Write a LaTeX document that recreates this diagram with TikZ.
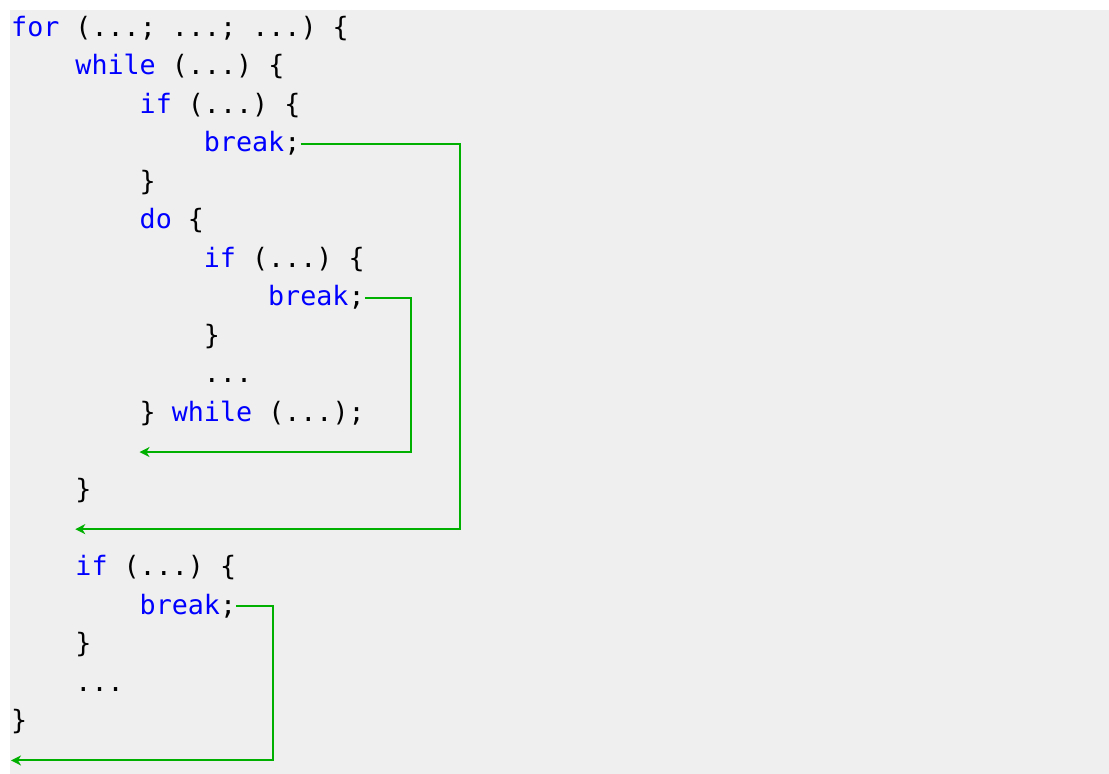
\documentclass[tikz,border=0pt]{standalone}
\usepackage{fontspec}
\newfontfamily\codefont{DejaVu Sans Mono}
\usetikzlibrary{arrows.meta}
\definecolor{kwblue}{HTML}{0000FF}
\definecolor{jumpgreen}{HTML}{00B000}
\definecolor{codebg}{HTML}{EFEFEF}
\newcommand{\kw}[1]{\textcolor{kwblue}{#1}}

\begin{document}
\begin{tikzpicture}[x=16.06pt,y=-38.55pt,
  code line/.style={anchor=base west,inner sep=0pt,font=\codefont\fontsize{26.7pt}{32pt}\selectfont\frenchspacing},
  jump/.style={draw=jumpgreen,line width=2pt,->,>={Stealth[length=10pt,width=10pt,inset=3pt]}}]

\useasboundingbox (0pt,0pt) rectangle (1109pt,-774pt);
\fill[codebg] (10pt,-10pt) rectangle (1109pt,-774pt);

% one node per line of code: (column, row)
\begin{scope}[shift={(11pt,2.55pt)}]
  \node[code line] (l1) at (0,1) {\kw{for} (...; ...; ...) \{};
  \node[code line] (l2) at (4,2) {\kw{while} (...) \{};
  \node[code line] (l3) at (8,3) {\kw{if} (...) \{};
  \node[code line] (brkA) at (12,4) {\kw{break};};
  \node[code line] (l5) at (8,5) {\}};
  \node[code line] (l6) at (8,6) {\kw{do} \{};
  \node[code line] (l7) at (12,7) {\kw{if} (...) \{};
  \node[code line] (brkB) at (16,8) {\kw{break};};
  \node[code line] (l9) at (12,9) {\}};
  \node[code line] (l10) at (12,10) {...};
  \node[code line] (l11) at (8,11) {\} \kw{while} (...);};
  \node[code line] (l13) at (4,13) {\}};
  \node[code line] (l15) at (4,15) {\kw{if} (...) \{};
  \node[code line] (brkC) at (8,16) {\kw{break};};
  \node[code line] (l17) at (4,17) {\}};
  \node[code line] (l18) at (4,18) {...};
  \node[code line] (l19) at (0,19) {\}};

  % where each break lands
  \coordinate (railA) at ([yshift=8pt]27.96,14);
  \coordinate (backA) at ([yshift=8pt]4,14);
  \coordinate (railB) at ([yshift=8pt]24.9,12);
  \coordinate (backB) at ([yshift=8pt]8,12);
  \coordinate (railC) at ([yshift=8pt]16.3,20);
  \coordinate (backC) at ([yshift=8pt]0,20);
\end{scope}

\draw[jump] ([yshift=8pt]brkA.base east) -| (railA) -- (backA);
\draw[jump] ([yshift=8pt]brkB.base east) -| (railB) -- (backB);
\draw[jump] ([yshift=8pt]brkC.base east) -| (railC) -- (backC);
\end{tikzpicture}
\end{document}
